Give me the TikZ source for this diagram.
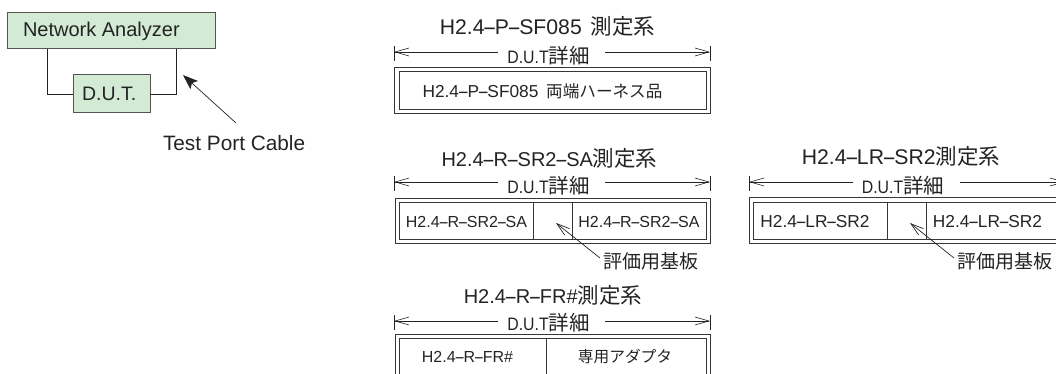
\documentclass[tikz,border=0pt]{standalone}
\usepackage{fontspec}
\usepackage{graphicx}
\setmainfont{Liberation Sans}
\newfontfamily\cjk{Noto Sans CJK JP}
\usetikzlibrary{arrows.meta}
\definecolor{boxgreen}{RGB}{211,234,212}
\definecolor{edge}{RGB}{85,85,85}
\definecolor{ink}{RGB}{35,35,35}
\definecolor{framec}{RGB}{55,55,55}
\newcommand{\hy}{\kern-.09em\scalebox{2.0}[1]{-}\kern-.09em}
\newcommand{\cj}[2]{{\cjk\fontsize{#1}{22}\selectfont #2}}
\newcommand{\dutlabel}{\scalebox{0.88}[1]{D.U.T}\cj{20.5}{詳細}}
\tikzset{
  x=1pt,y=-1pt,
  every node/.style={text=ink,inner sep=0pt,outer sep=0pt},
  greenbox/.style={draw=edge,line width=1pt,fill=boxgreen},
  wire/.style={draw=ink,line width=0.9pt},
  frame/.style={draw=framec,line width=0.9pt},
  tick/.style={draw=ink,line width=0.6pt},
  dimleft/.style={draw=ink,line width=0.6pt,{Straight Barb[length=14pt,width=8pt]}-},
  dimright/.style={draw=ink,line width=0.6pt,-{Straight Barb[length=14pt,width=8pt]}},
  openhead/.style={draw=ink,line width=0.7pt,-{Straight Barb[length=13pt,width=8pt]}},
  lat/.style={font=\fontsize{20}{22}\selectfont},
  title/.style={font=\fontsize{20}{22}\selectfont},
  titlebig/.style={font=\fontsize{21.2}{22}\selectfont},
  dut/.style={font=\fontsize{18}{20}\selectfont},
  cell/.style={font=\fontsize{16}{18}\selectfont},
  cellbig/.style={font=\fontsize{17.3}{20}\selectfont},
  cjklabel/.style={font=\fontsize{19}{22}\selectfont\cjk},
}
\newcommand{\dimrow}[4]{% left x, right x, y of line, name prefix
  \coordinate (#4a) at (#1,#3);
  \coordinate (#4b) at (#2,#3);
  \draw[tick] (#1,#3-6) -- (#1,#3+9);
  \draw[tick] (#2,#3-6) -- (#2,#3+9);
}
\begin{document}
\begin{tikzpicture}
\useasboundingbox (0,0) rectangle (1056,374);
\clip (0,0) rectangle (1056,374);

% left schematic
\node[greenbox,anchor=north west,minimum width=208pt,minimum height=36pt] (na) at (7,13) {};
\node[lat,anchor=west] (natext) at (23,31) {Network Analyzer};
\node[greenbox,anchor=north west,minimum width=77pt,minimum height=38pt] (d) at (73,75) {};
\node[lat,font=\fontsize{19.5}{22}\selectfont,anchor=west] (dtext) at (82,94) {D.U.T.};
\coordinate (nal) at (47,49);
\coordinate (nar) at (176,49);
\draw[wire] (nal) |- (d.west);
\draw[wire] (nar) |- (d.east);
\node[lat,font=\fontsize{20.8}{22}\selectfont,anchor=west] (tpc) at (163,143) {Test Port Cable};
\coordinate (tpctail) at (236,123);
\coordinate (tpctip) at (183,75);
\draw[draw=ink,line width=0.7pt,-{Stealth[length=15pt,width=11pt,inset=3pt]}] (tpctail) -- (tpctip);

% panel 1
\node[titlebig] (t1) at (547.5,26) {H2.4\hy P\hy SF085 \kern3pt\cj{21.5}{測定系}};
\dimrow{394}{710}{52}{p}
\node[dut] (l1) at (548.5,56) {\dutlabel};
\draw[dimleft] (pa) -- (498,52);
\draw[dimright] (605,52) -- (pb);
\draw[frame] (394,67) rectangle (710,113);
\node[frame,anchor=north west,minimum width=307pt,minimum height=38pt] (b1) at (399,71) {};
\node[cellbig] (c1) at (542.5,91) {H2.4\hy P\hy SF085 \kern3pt\cj{16.6}{両端ハーネス品}};

% panel 2
\node[title] (t2) at (549.5,158) {H2.4\hy R\hy SR2\hy SA\cj{21.5}{測定系}};
\dimrow{394}{710}{182}{q}
\node[dut] (l2) at (548.5,186) {\dutlabel};
\draw[dimleft] (qa) -- (498,182);
\draw[dimright] (605,182) -- (qb);
\draw[frame] (395,198) rectangle (710,243);
\draw[frame] (399,202) rectangle (706,239);
\draw[frame] (533,202) -- (533,239);
\draw[frame] (572,202) -- (572,239);
\node[cell] (c2a) at (466.5,222) {H2.4\hy R\hy SR2\hy SA};
\node[cell] (c2b) at (639,222) {H2.4\hy R\hy SR2\hy SA};
\node[cjklabel,anchor=west] (e2) at (603,261) {評価用基板};
\coordinate (a2tip) at (556,223);
\draw[openhead] (e2.west) ++(-3,-3) -- (a2tip);

% panel 3
\node[titlebig] (t3) at (901,156) {H2.4\hy LR\hy SR2\cj{21.5}{測定系}};
\dimrow{749}{1065}{182}{r}
\node[dut] (l3) at (903,186) {\dutlabel};
\draw[dimleft] (ra) -- (853,182);
\draw[dimright] (960,182) -- (rb);
\draw[frame] (749,197) rectangle (1065,243);
\draw[frame] (753,202) rectangle (1060,239);
\draw[frame] (887,202) -- (887,239);
\draw[frame] (926,202) -- (926,239);
\node[cellbig] (c3a) at (815,222) {H2.4\hy LR\hy SR2};
\node[cellbig] (c3b) at (987.5,222) {H2.4\hy LR\hy SR2};
\node[cjklabel,anchor=west] (e3) at (957,261) {評価用基板};
\coordinate (a3tip) at (910,223);
\draw[openhead] (e3.west) ++(-3,-3) -- (a3tip);

% panel 4
\node[title] (t4) at (553,295) {H2.4\hy R\hy FR\#\cj{21.5}{測定系}};
\dimrow{394}{710}{321}{s}
\node[dut] (l4) at (548.5,323) {\dutlabel};
\draw[dimleft] (sa) -- (498,321);
\draw[dimright] (605,321) -- (sb);
\draw[frame] (395,334) rectangle (710,380);
\draw[frame] (399,338) rectangle (706,380);
\draw[frame] (546,338) -- (546,380);
\node[cell] (c4a) at (467.5,357) {H2.4\hy R\hy FR\#};
\node[cjklabel,font=\fontsize{15.7}{20}\selectfont\cjk] (c4b) at (625,357) {専用アダプタ};
\end{tikzpicture}
\end{document}
